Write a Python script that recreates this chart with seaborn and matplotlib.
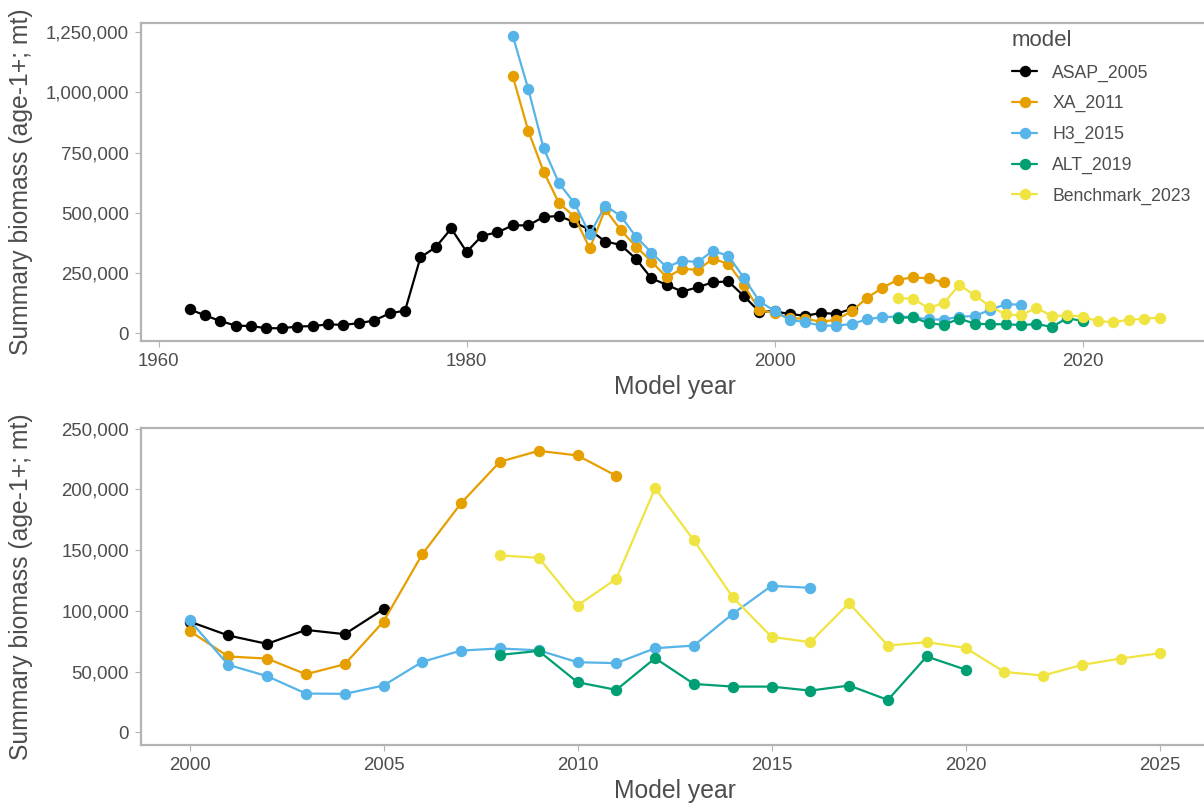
import numpy as np
import pandas as pd
import matplotlib
matplotlib.use("Agg")
import matplotlib.pyplot as plt
import matplotlib.ticker as mticker
import seaborn as sns

# --- data ---
models = ["ASAP_2005", "XA_2011", "H3_2015", "ALT_2019", "Benchmark_2023"]
colors = ["#000000", "#E69F00", "#56B4E9", "#009E73", "#F0E442"]

asap_years = list(range(1962, 2006))
asap_biomass = [99600, 74700, 51000, 32000, 30000, 21000, 21000, 28000, 30000, 37000,
                35000, 42000, 53000, 83000, 94000, 315000, 358000, 435000, 338000, 405000,
                419000, 448000, 448000, 483000, 487000, 461000, 429000, 381000, 367000, 309000,
                228000, 201000, 173000, 191000, 212000, 215000, 155000, 90000,
                91200, 79700, 72800, 84300, 80800, 101400]

xa_years = list(range(1983, 2012))
xa_biomass = [1066000, 841000, 671000, 540000, 484000, 352000, 515000, 429000, 360000, 298000,
              232000, 268000, 263000, 309000, 288000, 201000, 97000,
              83500, 62400, 60700, 47800, 56000, 91200, 146700, 188700, 222800, 231800,
              228000, 211200]

h3_years = list(range(1983, 2017))
h3_biomass = [1234000, 1014000, 768000, 623000, 540000, 411000, 530000, 487000, 401000, 335000,
              274000, 302000, 295000, 343000, 321000, 231000, 134000,
              92300, 55500, 46200, 31900, 31600, 38500, 58000, 67300, 69000, 67500,
              57700, 56900, 69200, 71400, 97500, 120600, 119000]

alt_years = list(range(2008, 2021))
alt_biomass = [63700, 67000, 41200, 34900, 61000, 39800, 37600, 37600, 34300, 38500,
               26600, 62400, 51600]

bench_years = list(range(2008, 2026))
bench_biomass = [145600, 143700, 104400, 126400, 201000, 158000, 111300, 78600, 74200, 106300,
                 71400, 74200, 69500, 49700, 46700, 55500, 60700, 65100]

frames = []
for name, yrs, vals in [("ASAP_2005", asap_years, asap_biomass),
                        ("XA_2011", xa_years, xa_biomass),
                        ("H3_2015", h3_years, h3_biomass),
                        ("ALT_2019", alt_years, alt_biomass),
                        ("Benchmark_2023", bench_years, bench_biomass)]:
    frames.append(pd.DataFrame({"year": yrs, "biomass": vals, "model": name}))
df = pd.concat(frames, ignore_index=True)
df["model"] = pd.Categorical(df["model"], categories=models, ordered=True)
df_recent = df[df["year"] >= 2000]

sns.set_style("white")
plt.rcParams["font.family"] = ["Liberation Sans", "DejaVu Sans"]

txt = "#4d4d4d"
edge = "#b3b3b3"
palette = dict(zip(models, colors))

fig = plt.figure(figsize=(12.04, 8.09), dpi=100)
ax1 = fig.add_axes([141 / 1204, 1 - 341 / 809, 1067 / 1204, 318 / 809])
ax2 = fig.add_axes([141 / 1204, 1 - 745 / 809, 1067 / 1204, 317 / 809])

line_kw = dict(x="year", y="biomass", hue="model", hue_order=models, palette=palette,
               marker="o", markersize=8.2, markeredgewidth=0, linewidth=1.6)
sns.lineplot(data=df, ax=ax1, **line_kw)
sns.lineplot(data=df_recent, ax=ax2, legend=False, **line_kw)

fmt = mticker.FuncFormatter(lambda v, p: f"{v:,.0f}")

ax1.set_xlim(1958.85, 2028.15)
ax1.set_ylim(-32000, 1288000)
ax1.set_xticks([1960, 1980, 2000, 2020])
ax1.set_yticks(np.arange(0, 1250001, 250000))

ax2.set_xlim(1998.75, 2026.25)
ax2.set_ylim(-10500, 250600)
ax2.set_xticks(np.arange(2000, 2026, 5))
ax2.set_yticks(np.arange(0, 250001, 50000))

for ax in (ax1, ax2):
    ax.yaxis.set_major_formatter(fmt)
    ax.set_xlabel("Model year", fontsize=17.8, color=txt, labelpad=4)
    ax.set_ylabel("Summary biomass (age-1+; mt)", fontsize=17.8, color=txt)
    ax.yaxis.set_label_coords(-0.101, 0.5)
    for s in ax.spines.values():
        s.set_color(edge)
        s.set_linewidth(1.6)
    ax.tick_params(axis="both", which="major", length=4, width=0.8, color=edge,
                   labelsize=13.4, labelcolor=txt, pad=4.5,
                   bottom=True, left=True)
    ax.grid(False)

ax1.get_legend().remove()
handles, labels = ax1.get_legend_handles_labels()
leg = fig.legend(handles, labels, title="model", loc="upper left",
                 bbox_to_anchor=(996 / 1204, 1 - 14 / 809), frameon=False,
                 fontsize=12.7, title_fontsize=16, handlelength=1.45,
                 handletextpad=0.85, labelspacing=0.77, alignment="left")
for t in leg.get_texts():
    t.set_color(txt)
leg.get_title().set_color(txt)

fig.savefig("out.png", dpi=100)
